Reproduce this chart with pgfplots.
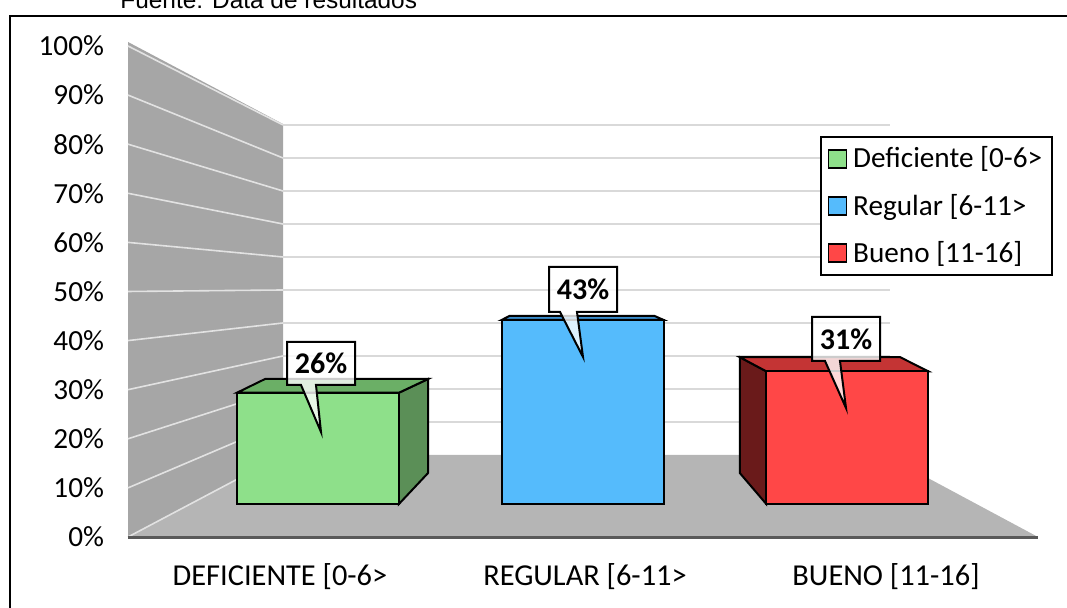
\documentclass[border=0pt]{standalone}
\usepackage{fontspec}
\setmainfont{Carlito}
\newfontfamily\arialf{Liberation Sans}
\usepackage{pgfplots}
\pgfplotsset{compat=1.18}
\definecolor{gfront}{HTML}{8EE08A}
\definecolor{gside}{HTML}{5B8F57}
\definecolor{gtop}{HTML}{6BAF66}
\definecolor{bfront}{HTML}{55BBFC}
\definecolor{btop}{HTML}{3A8CCB}
\definecolor{rfront}{HTML}{FF4747}
\definecolor{rside}{HTML}{6A1A1A}
\definecolor{rtop}{HTML}{C43434}
\definecolor{wallc}{HTML}{A6A6A6}
\definecolor{floorc}{HTML}{B5B5B5}
\definecolor{gridc}{HTML}{D9D9D9}
\definecolor{gridw}{HTML}{E2E2E2}
\definecolor{edgec}{HTML}{595959}
\pgfplotsset{
  lsq/.style={/pgfplots/legend image code/.code={\draw[##1,line width=0.8pt] (0pt,-4.5pt) rectangle (9pt,4.5pt);}},
}
\begin{document}
\begin{tikzpicture}[x=0.5pt,y=0.5pt]
\path[use as bounding box] (0,0) rectangle (1067,608);
\clip (0,0) rectangle (1067,608);
% frame and source line
\draw[line width=1pt] (10,-20) rectangle (1090,592);
\node[anchor=base west,inner sep=0pt,font=\arialf\fontsize{12.2}{14}\selectfont] at (120,599) {Fuente: Data de resultados};
% floor, side wall, grid
\fill[floorc] (128,71) -- (283,153) -- (885,153) -- (1038,71) -- cycle;
\fill[wallc] (128,71) -- (128,566) -- (283,484) -- (283,153) -- cycle;
\foreach \k in {1,...,10} {\draw[gridw,line width=0.8pt] (128,{71+49.1*\k}) -- (283,{153+33*\k});}
\draw[gridw,line width=0.8pt] (128,71) -- (283,153);
\foreach \k in {1,...,10} {\draw[gridc,line width=1pt] (283,{153+33*\k}) -- (890,{153+33*\k});}
\draw[edgec,line width=1.5pt] (128,70) -- (1038,70);

% tick axis
\begin{axis}[at={(64pt,35.5pt)},anchor=south west,scale only axis,
  width=455pt,height=245.5pt,
  xmin=128,xmax=1038,ymin=0,ymax=100,
  axis line style={draw=none},major tick length=0pt,
  ytick={0,10,...,100},
  yticklabels={0\%,10\%,20\%,30\%,40\%,50\%,60\%,70\%,80\%,90\%,100\%},
  yticklabel style={font=\fontsize{14.6}{17}\selectfont,xshift=-8.5pt},
  xtick={280,585,886},
  xticklabels={{DEFICIENTE [0-6>},{REGULAR [6-11>},{BUENO [11-16]}},
  xticklabel style={font=\fontsize{15.2}{18}\selectfont,yshift=-9.5pt},
]
\end{axis}

% bars axis
\begin{axis}[at={(64pt,35.5pt)},anchor=south west,scale only axis,
  width=455pt,height=245.5pt,
  xmin=-0.718,xmax=2.721,ymin=-7.71,ymax=107.0,
  hide axis,clip=false,
  legend style={at={(0.760,0.817)},anchor=north west,draw=black,line width=1pt,
    font=\fontsize{14.6}{17}\selectfont,row sep=8.5pt,column sep=1.5pt,inner sep=3.5pt,
    nodes={inner sep=1.5pt}},
  legend cell align=left,
]
% side and top faces
\addplot[forget plot,fill=gside,draw=black,line width=1pt] coordinates {(0.306,0) (0.306,26) (0.416,29.2) (0.416,7.24)} -- cycle;
\addplot[forget plot,fill=gtop,draw=black,line width=1pt] coordinates {(-0.306,26) (-0.200,29.2) (0.416,29.2) (0.306,26)} -- cycle;
\addplot[forget plot,fill=btop,draw=black,line width=1pt] coordinates {(0.694,43) (0.724,43.93) (1.272,43.93) (1.306,43)} -- cycle;
\addplot[forget plot,fill=rside,draw=black,line width=1pt] coordinates {(1.694,0) (1.694,31) (1.594,34.3) (1.594,7.24)} -- cycle;
\addplot[forget plot,fill=rtop,draw=black,line width=1pt] coordinates {(1.694,31) (1.594,34.3) (2.200,34.3) (2.306,31)} -- cycle;
% front faces (values)
\addplot[ybar,bar width=81pt,bar shift=0pt,fill=gfront,draw=black,line width=1pt,lsq] coordinates {(0,26)};
\addlegendentry{Deficiente [0-6>}
\addplot[ybar,bar width=81pt,bar shift=0pt,fill=bfront,draw=black,line width=1pt,lsq] coordinates {(1,43)};
\addlegendentry{Regular [6-11>}
\addplot[ybar,bar width=81pt,bar shift=0pt,fill=rfront,draw=black,line width=1pt,lsq] coordinates {(2,31)};
\addlegendentry{Bueno [11-16]}
\end{axis}

% data callouts
\tikzset{co/.style={fill=white,fill opacity=0.8,draw=black,line width=1pt,line join=miter},
         cot/.style={font=\bfseries\fontsize{15}{17}\selectfont}}
\filldraw[co] (287,266) -- (355,266) -- (355,223) -- (316,223) -- (321,176) -- (301,223) -- (287,223) -- cycle;
\node[cot] at (321,244.5) {26\%};
\filldraw[co] (549,341) -- (617,341) -- (617,296) -- (577,296) -- (583,251) -- (560,296) -- (549,296) -- cycle;
\node[cot] at (583,318.5) {43\%};
\filldraw[co] (812,291) -- (880,291) -- (880,247) -- (840,247) -- (846,200) -- (825,247) -- (812,247) -- cycle;
\node[cot] at (846,269) {31\%};
\end{tikzpicture}
\end{document}
